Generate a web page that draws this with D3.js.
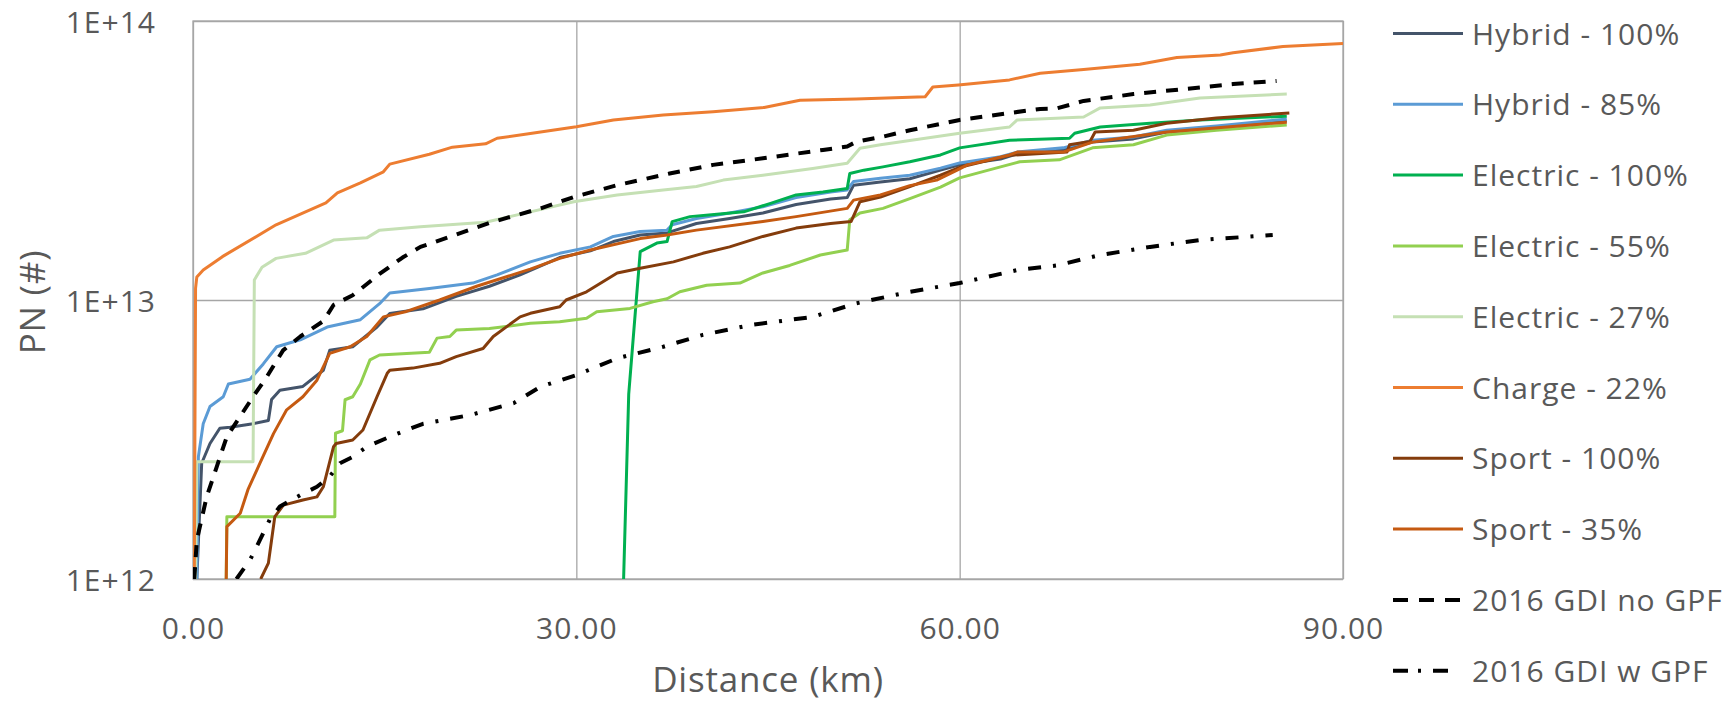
<!DOCTYPE html>
<html>
<head>
<meta charset="utf-8">
<script src="https://cdn.jsdelivr.net/npm/d3@7"></script>
<style>
  body { margin: 0; background: #fff; }
  svg { display: block; }
  text { font-family: "Open Sans", sans-serif; fill: #595959; }
</style>
</head>
<body>
<svg id="chart"></svg>
<script>
// ---- data: [distance km, PN #] ----
const hybrid100 = [[0.3,1e12],[0.68,2.6e12],[1.33,3.06e12],[2.1,3.47e12],[2.9,3.5e12],[4.7,3.6e12],[5.9,3.7e12],[6.15,4.4e12],[6.8,4.75e12],[8.6,4.9e12],[10.2,5.6e12],[10.7,6.6e12],[12.5,6.8e12],[14.4,8.0e12],[15.4,8.95e12],[18,9.3e12],[20.6,1.03e13],[23.2,1.12e13],[25.6,1.23e13],[28.7,1.42e13],[31.1,1.5e13],[32.9,1.62e13],[35,1.71e13],[37.1,1.74e13],[39.4,1.88e13],[42,1.96e13],[44.6,2.05e13],[47.2,2.2e13],[49.9,2.3e13],[51.2,2.33e13],[51.7,2.58e13],[53.8,2.65e13],[56.1,2.72e13],[58.5,2.92e13],[60,3.05e13],[63.2,3.2e13],[64.5,3.34e13],[68.1,3.46e13],[70.4,3.68e13],[73.6,3.78e13],[76.2,4.0e13],[80.1,4.15e13],[85.6,4.38e13]];
const hybrid85 = [[0.3,1e12],[0.42,2.74e12],[0.8,3.6e12],[1.33,4.15e12],[2.37,4.5e12],[2.77,5.0e12],[4.46,5.2e12],[5.5,5.9e12],[6.55,6.8e12],[8.4,7.2e12],[10.5,8.0e12],[13.1,8.5e12],[14.6,9.7e12],[15.4,1.06e13],[18.5,1.1e13],[21.9,1.15e13],[23.8,1.23e13],[26.4,1.37e13],[28.7,1.47e13],[31.1,1.55e13],[32.9,1.69e13],[35,1.76e13],[37.1,1.78e13],[37.5,1.86e13],[39.4,1.96e13],[42,2.05e13],[44.6,2.16e13],[47.2,2.33e13],[49.9,2.44e13],[51.2,2.48e13],[51.7,2.66e13],[53.8,2.73e13],[56.1,2.8e13],[58.5,2.97e13],[60,3.1e13],[63.2,3.26e13],[64.5,3.39e13],[68.1,3.51e13],[70.4,3.74e13],[73.6,3.84e13],[76.2,4.06e13],[80.1,4.2e13],[85.6,4.45e13]];
const electric100 = [[33.7,1e12],[34.1,4.6e12],[34.7,1.01e13],[35,1.49e13],[36.3,1.6e13],[37.1,1.62e13],[37.5,1.91e13],[38.9,1.99e13],[41,2.03e13],[43.1,2.07e13],[45.2,2.22e13],[47.2,2.38e13],[49.3,2.44e13],[51.2,2.51e13],[51.4,2.84e13],[52.5,2.92e13],[54,3.0e13],[56.1,3.13e13],[58.5,3.31e13],[60,3.51e13],[63.9,3.74e13],[68.6,3.8e13],[69,3.96e13],[71,4.17e13],[74.9,4.3e13],[78.8,4.42e13],[85.6,4.56e13]];
const electric55 = [[2.6,1e12],[2.65,1.67e12],[11.1,1.67e12],[11.15,3.33e12],[11.7,3.4e12],[11.9,4.39e12],[12.5,4.5e12],[13.1,5.0e12],[13.85,6.1e12],[14.6,6.35e12],[18.5,6.5e12],[19.1,7.3e12],[20.1,7.4e12],[20.6,7.8e12],[23.2,7.9e12],[26.4,8.25e12],[28.7,8.35e12],[30.8,8.6e12],[31.6,9.07e12],[34.2,9.33e12],[36,9.86e12],[37.1,1.01e13],[38.1,1.07e13],[40.2,1.13e13],[42.8,1.15e13],[44.6,1.25e13],[46.7,1.33e13],[49.1,1.45e13],[51.2,1.51e13],[51.4,1.94e13],[52.2,2.05e13],[54,2.13e13],[56.1,2.31e13],[58.5,2.54e13],[60,2.74e13],[63.2,3.0e13],[64.7,3.13e13],[67.8,3.18e13],[70.4,3.51e13],[73.6,3.6e13],[76.2,3.9e13],[80.1,4.06e13],[85.6,4.24e13]];
const electric27 = [[0.2,1e12],[0.3,2.63e12],[4.7,2.63e12],[4.8,1.18e13],[5.4,1.31e13],[6.5,1.41e13],[8.8,1.47e13],[11,1.64e13],[13.6,1.67e13],[14.6,1.78e13],[17.8,1.83e13],[22.9,1.9e13],[26.4,2.07e13],[29.8,2.25e13],[33.2,2.38e13],[36.8,2.48e13],[39.4,2.55e13],[41.5,2.69e13],[44.6,2.8e13],[48.5,2.96e13],[51.2,3.09e13],[52.2,3.5e13],[53.8,3.6e13],[56.1,3.73e13],[60,3.96e13],[63.9,4.17e13],[64.5,4.42e13],[69.7,4.53e13],[71,4.88e13],[74.9,5.0e13],[78.8,5.3e13],[85.6,5.47e13]];
const charge22 = [[0.1,1e12],[0.2,1.1e13],[0.3,1.21e13],[0.8,1.28e13],[2.3,1.43e13],[6.5,1.86e13],[10.4,2.23e13],[11.3,2.42e13],[13.1,2.63e13],[14.9,2.88e13],[15.4,3.07e13],[18.5,3.33e13],[20.3,3.53e13],[22.9,3.63e13],[23.8,3.8e13],[26.4,3.95e13],[30,4.18e13],[32.9,4.42e13],[36.8,4.6e13],[40.7,4.73e13],[44.7,4.9e13],[47.5,5.2e13],[51.9,5.25e13],[57.3,5.35e13],[57.9,5.8e13],[59.9,5.9e13],[63.9,6.15e13],[66.3,6.5e13],[69.7,6.7e13],[74.1,7.0e13],[77,7.4e13],[80.4,7.55e13],[81.4,7.7e13],[85.3,8.1e13],[90,8.3e13]];
const sport100 = [[5.3,1e12],[5.9,1.14e12],[6.15,1.38e12],[6.4,1.67e12],[7.07,1.84e12],[8.6,1.92e12],[9.7,1.97e12],[10.2,2.14e12],[11,2.98e12],[11.2,3.06e12],[12.5,3.15e12],[13.3,3.42e12],[14.4,4.5e12],[15.2,5.46e12],[15.4,5.6e12],[17.2,5.7e12],[19.3,5.93e12],[20.6,6.27e12],[22.7,6.7e12],[23.5,7.4e12],[25.6,8.7e12],[26.4,8.96e12],[28.7,9.46e12],[29.2,1.0e13],[30.8,1.07e13],[33.2,1.25e13],[35,1.3e13],[37.6,1.37e13],[39.9,1.47e13],[42,1.55e13],[44.6,1.69e13],[47.2,1.81e13],[49.9,1.88e13],[51.5,1.91e13],[52.2,2.25e13],[53.8,2.34e13],[56.1,2.55e13],[58.5,2.8e13],[60,2.99e13],[63.9,3.3e13],[68.4,3.39e13],[68.6,3.6e13],[70.2,3.7e13],[70.6,4.0e13],[73.6,4.06e13],[76.2,4.3e13],[80.1,4.49e13],[85.8,4.68e13]];
const sport35 = [[2.6,1e12],[2.65,1.54e12],[3.7,1.72e12],[4.3,2.09e12],[5.24,2.6e12],[6.3,3.32e12],[7.33,4.04e12],[8.6,4.5e12],[9.7,5.16e12],[10.7,6.44e12],[12.3,6.8e12],[13.6,7.4e12],[14.9,8.7e12],[16.7,9.1e12],[19.3,1.0e13],[22.2,1.12e13],[26.4,1.29e13],[28.7,1.41e13],[31.1,1.51e13],[35,1.66e13],[37.1,1.71e13],[39.4,1.78e13],[44.6,1.91e13],[47.2,1.99e13],[51.2,2.13e13],[51.7,2.28e13],[53.8,2.38e13],[56.1,2.57e13],[58.2,2.69e13],[59.8,2.92e13],[60.6,3.05e13],[63.9,3.31e13],[64.5,3.39e13],[68.1,3.39e13],[70.4,3.68e13],[76.2,4.0e13],[85.6,4.34e13]];
const gdiNoGpf = [[0.1,1e12],[0.3,1.38e12],[1.07,1.97e12],[1.85,2.52e12],[2.64,3.23e12],[3.68,3.82e12],[4.7,4.5e12],[5.77,5.3e12],[7.05,6.6e12],[8.4,7.4e12],[10.2,8.4e12],[11,9.6e12],[12.5,1.04e13],[14.6,1.24e13],[16.4,1.42e13],[17.8,1.55e13],[20,1.68e13],[23.2,1.89e13],[27.2,2.13e13],[29.8,2.34e13],[33.2,2.58e13],[37.3,2.84e13],[40.7,3.05e13],[44.6,3.22e13],[49.3,3.45e13],[51.2,3.55e13],[51.9,3.69e13],[54,3.85e13],[56.1,4.06e13],[60,4.42e13],[63.9,4.68e13],[66.3,4.84e13],[67.6,4.86e13],[69.7,5.17e13],[73.6,5.47e13],[77.5,5.7e13],[81.4,5.94e13],[84.8,6.1e13]];
const gdiWGpf = [[3.4,1e12],[4.46,1.17e12],[5.24,1.38e12],[6.0,1.63e12],[6.8,1.82e12],[8.4,2.0e12],[9.7,2.14e12],[10.7,2.33e12],[11.5,2.6e12],[12.5,2.74e12],[13.6,2.98e12],[15.7,3.28e12],[18,3.6e12],[21.7,3.87e12],[25.1,4.27e12],[27.2,4.89e12],[30,5.38e12],[33.2,6.18e12],[36.8,6.8e12],[39.9,7.5e12],[43.6,8.13e12],[48.5,8.7e12],[51.9,9.73e12],[56.1,1.07e13],[60,1.15e13],[64.5,1.28e13],[67.6,1.33e13],[71,1.45e13],[74.9,1.55e13],[78.8,1.64e13],[84.5,1.71e13]];

const seriesNames = ["Hybrid - 100%", "Hybrid - 85%", "Electric - 100%", "Electric - 55%", "Electric - 27%",
  "Charge - 22%", "Sport - 100%", "Sport - 35%", "2016 GDI no GPF", "2016 GDI w GPF"];
const xTicks = [0, 30, 60, 90];
const yTicks = [1e12, 1e13, 1e14];

// styles
const colors = ["#44546A", "#5B9BD5", "#00B050", "#92D050", "#C5E0B4", "#ED7D31", "#843C0C", "#C55A11", "#000", "#000"];
const dashes = [null, null, null, null, null, null, null, null, "12,10", "13,12,3,12"];
const legendDashes = [null, null, null, null, null, null, null, null, "15,11", "15,10,3,12"];
const widths = [3, 3, 3, 3, 3, 3, 3, 3, 4, 4];
const allData = [hybrid100, hybrid85, electric100, electric55, electric27, charge22, sport100, sport35, gdiNoGpf, gdiWGpf];

const width = 1731, height = 705;
const plotLeft = 193, plotRight = 1343, plotTop = 21, plotBottom = 579;

const svg = d3.select("#chart").attr("width", width).attr("height", height);

const x = d3.scaleLinear().domain([0, 90]).range([plotLeft, plotRight]);
const y = d3.scaleLog().domain([1e12, 1e14]).range([plotBottom, plotTop]);

// grid + tick labels
const xAxis = svg.append("g")
  .attr("transform", `translate(0,${plotBottom})`)
  .call(d3.axisBottom(x).tickValues(xTicks).tickSize(-(plotBottom - plotTop)).tickFormat(d3.format(".2f")));
xAxis.select(".domain").remove();
xAxis.selectAll("line").attr("stroke", "#A6A6A6").attr("stroke-width", 1.3);
xAxis.selectAll("text").attr("y", 60).attr("dy", null)
  .style("font-size", "30px").style("letter-spacing", "1px").attr("fill", "#595959");

const yAxis = svg.append("g")
  .attr("transform", `translate(${plotLeft},0)`)
  .call(d3.axisLeft(y).tickValues(yTicks).tickSize(-(plotRight - plotLeft)).tickFormat(d => "1E+" + Math.round(Math.log10(d))));
yAxis.select(".domain").remove();
yAxis.selectAll("line").attr("stroke", "#A6A6A6").attr("stroke-width", 1.3);
yAxis.selectAll("text").attr("x", -37).attr("dy", 11)
  .style("font-size", "30px").style("letter-spacing", "1px").attr("fill", "#595959");

svg.append("rect")
  .attr("x", plotLeft).attr("y", plotTop).attr("width", plotRight - plotLeft).attr("height", plotBottom - plotTop)
  .attr("fill", "none").attr("stroke", "#A6A6A6").attr("stroke-width", 1.3);

// lines
svg.append("clipPath").attr("id", "plotClip")
  .append("rect").attr("x", plotLeft).attr("y", plotTop).attr("width", plotRight - plotLeft).attr("height", plotBottom - plotTop);

const line = d3.line().x(d => x(d[0])).y(d => y(d[1]));
const plot = svg.append("g").attr("clip-path", "url(#plotClip)");
allData.forEach((data, i) => {
  plot.append("path")
    .datum(data)
    .attr("d", line)
    .attr("fill", "none")
    .attr("stroke", colors[i])
    .attr("stroke-width", widths[i])
    .attr("stroke-linejoin", "round")
    .attr("stroke-dasharray", dashes[i]);
});

// axis titles
svg.append("text")
  .attr("x", (plotLeft + plotRight) / 2).attr("y", 692)
  .attr("text-anchor", "middle")
  .style("font-size", "35px").style("letter-spacing", "0.8px")
  .text("Distance (km)");
svg.append("text")
  .attr("transform", `translate(45,${(plotTop + plotBottom) / 2 + 2}) rotate(-90)`)
  .attr("text-anchor", "middle")
  .style("font-size", "35px").style("letter-spacing", "0.8px")
  .text("PN (#)");

// legend
const legend = svg.append("g");
seriesNames.forEach((name, i) => {
  const ly = 33.5 + i * 70.8;
  legend.append("line")
    .attr("x1", 1393).attr("x2", i === 9 ? 1450 : 1463)
    .attr("y1", ly).attr("y2", ly)
    .attr("stroke", colors[i]).attr("stroke-width", widths[i])
    .attr("stroke-dasharray", legendDashes[i]);
  legend.append("text")
    .attr("x", 1472).attr("y", ly + 11)
    .style("font-size", "30px").style("letter-spacing", "1px")
    .text(name);
});
</script>
</body>
</html>
